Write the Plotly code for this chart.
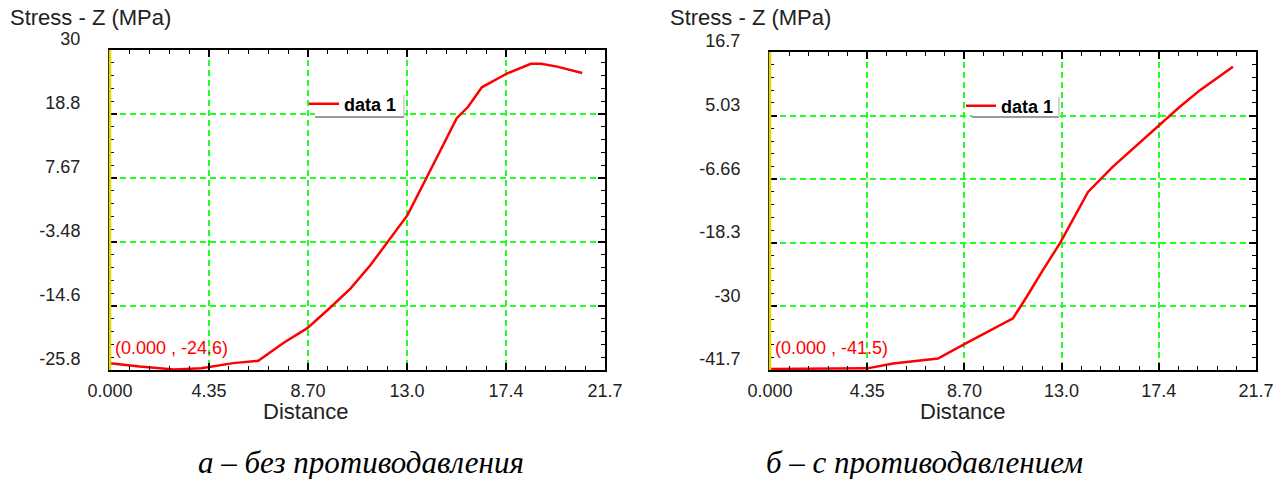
import plotly.graph_objects as go

W, H = 1280, 479

# ---------------- data ----------------
dist_a = [0, 1.3, 2.8, 4.0, 5.4, 6.5, 7.6, 8.65, 9.66, 10.54, 11.42, 12.16, 13.04,
          13.9, 14.5, 15.2, 15.7, 16.3, 17.4, 18.45, 18.9, 19.6, 20.7]
stress_a = [-24.6, -25.2, -25.7, -25.5, -24.6, -24.2, -21.1, -18.5, -14.9, -11.6, -7.5,
            -3.6, 1.2, 7.9, 12.6, 18.1, 20.1, 23.5, 25.9, 27.6, 27.6, 27.1, 26.0]

dist_b = [0, 4.35, 5.5, 7.5, 8.7, 10.85, 11.47, 12.19, 12.95, 13.53, 14.2, 15.3,
          16.38, 17.41, 18.3, 19.2, 20.67]
stress_b = [-41.5, -41.4, -40.5, -39.6, -36.9, -32.2, -28.2, -23.3, -18.4, -14.1, -9.0,
            -4.4, -0.4, 3.3, 6.65, 9.7, 14.0]

x_range = [0, 21.7]
x_ticklabels = ["0.000", "4.35", "8.70", "13.0", "17.4", "21.7"]
y_range_a = [-25.8, 30]
y_ticklabels_a = ["-25.8", "-14.6", "-3.48", "7.67", "18.8", "30"]
y_range_b = [-41.7, 16.7]
y_ticklabels_b = ["-41.7", "-30", "-18.3", "-6.66", "5.03", "16.7"]

series_name = "data 1"
y_title = "Stress - Z (MPa)"
x_title = "Distance"
cursor_a = "(0.000 , -24.6)"
cursor_b = "(0.000 , -41.5)"
caption_a = "а – без противодавления"
caption_b = "б – с противодавлением"

# ---------------- layout helpers ----------------
def px_x(p):
    return p / W

def px_y(p):
    return 1 - p / H

SANS = "Liberation Sans, Arial, sans-serif"
RED = "#ff0000"
GRID = "#22ff22"
YELLOW = "#e8d800"

# plot area rectangles in pixels (left, top, right, bottom)
box_a = (110, 50, 605, 370)
box_b = (770, 52, 1256, 370)


def even_ticks(rng, n):
    return [rng[0] + i * (rng[1] - rng[0]) / (n - 1) for i in range(n)]


def xaxis_cfg(box, anchor):
    vals = even_ticks(x_range, len(x_ticklabels))
    step = (x_range[1] - x_range[0]) / (len(x_ticklabels) - 1)
    return dict(
        domain=[px_x(box[0]), px_x(box[2])], anchor=anchor, range=x_range,
        automargin=False,
        tickmode="array", tickvals=vals, ticktext=x_ticklabels,
        ticks="inside", ticklen=7, tickwidth=2, tickcolor="black",
        showline=True, linecolor="black", linewidth=2, mirror="allticks",
        showgrid=True, gridcolor=GRID, gridwidth=1.5, griddash="6px,4px",
        zeroline=False, tickfont=dict(family=SANS, size=18, color="#222"),
        ticklabelstandoff=3,
        minor=dict(ticks="inside", ticklen=4, tickwidth=1, tickcolor="black",
                   tick0=x_range[0], dtick=step / 5, showgrid=False),
    )


def yaxis_cfg(box, anchor, rng, labels):
    vals = even_ticks(rng, len(labels))
    step = (rng[1] - rng[0]) / (len(labels) - 1)
    return dict(
        domain=[px_y(box[3]), px_y(box[1])], anchor=anchor, range=rng,
        automargin=False,
        tickmode="array", tickvals=vals, ticktext=labels,
        ticks="inside", ticklen=7, tickwidth=2, tickcolor="black",
        showline=True, linecolor="black", linewidth=2, mirror="allticks",
        showgrid=True, gridcolor=GRID, gridwidth=1.5, griddash="6px,4px",
        zeroline=False, tickfont=dict(family=SANS, size=18, color="#222"),
        ticklabelshift=-11, ticklabelstandoff=24,
        minor=dict(ticks="inside", ticklen=4, tickwidth=1, tickcolor="black",
                   tick0=rng[0], dtick=step / 5, showgrid=False),
    )


fig = go.Figure()
fig.add_trace(go.Scatter(x=dist_a, y=stress_a, mode="lines", name=series_name,
                         line=dict(color=RED, width=2.5), xaxis="x", yaxis="y",
                         legend="legend", showlegend=True))
fig.add_trace(go.Scatter(x=dist_b, y=stress_b, mode="lines", name=series_name,
                         line=dict(color=RED, width=2.5), xaxis="x2", yaxis="y2",
                         legend="legend2", showlegend=True))

legend_common = dict(
    bgcolor="rgba(0,0,0,0)", borderwidth=0, xanchor="left", yanchor="middle",
    font=dict(family=SANS, size=18, color="black", weight="bold"),
    itemwidth=30, tracegroupgap=0, visible=True,
)

shapes = []
annotations = []
for box, xa, ya, cursor, leg_px, xlab_c in [
    (box_a, "x", "y", cursor_a, (315, 93, 404, 117), 306),
    (box_b, "x2", "y2", cursor_b, (972, 95, 1059, 117), 963),
]:
    # yellow left axis line
    shapes.append(dict(type="line", xref=f"{xa} domain", yref=f"{ya} domain",
                       x0=0, x1=0, y0=0, y1=1, line=dict(color=YELLOW, width=2.5),
                       layer="above"))
    # legend box with shadow
    l, t, r, b = leg_px
    shapes.append(dict(type="rect", xref="paper", yref="paper",
                       x0=px_x(l), x1=px_x(r), y0=px_y(b), y1=px_y(t),
                       fillcolor="white", line=dict(width=0), layer="above"))
    shapes.append(dict(type="line", xref="paper", yref="paper",
                       x0=px_x(l), x1=px_x(r), y0=px_y(b), y1=px_y(b),
                       line=dict(color="#9a9a9a", width=2), layer="above"))
    shapes.append(dict(type="line", xref="paper", yref="paper",
                       x0=px_x(r), x1=px_x(r), y0=px_y(b), y1=px_y(t + 2),
                       line=dict(color="#c8c8c8", width=1.5), layer="above"))
    # y title
    annotations.append(dict(text=y_title, xref="paper", yref="paper",
                            x=px_x(box[0] - 102), y=px_y(17), xanchor="left",
                            yanchor="middle", showarrow=False,
                            font=dict(family=SANS, size=22, color="#222")))
    # x title
    annotations.append(dict(text=x_title, xref="paper", yref="paper",
                            x=px_x(xlab_c), y=px_y(411), xanchor="center",
                            yanchor="middle", showarrow=False,
                            font=dict(family=SANS, size=22, color="#222")))
    # data cursor label
    annotations.append(dict(text=cursor, xref="paper", yref="paper",
                            x=px_x(box[0] + 3), y=px_y(box[3] - 22), xanchor="left",
                            yanchor="middle", showarrow=False,
                            font=dict(family=SANS, size=18, color=RED)))

for cap, cx in [(caption_a, 361), (caption_b, 924)]:
    annotations.append(dict(text=cap, xref="paper", yref="paper",
                            x=px_x(cx), y=px_y(462), xanchor="center",
                            yanchor="middle", showarrow=False,
                            font=dict(family="Liberation Serif, Times New Roman, serif",
                                      size=31, style="italic", color="black")))

fig.update_layout(
    width=W, height=H, margin=dict(l=0, r=0, t=0, b=0, autoexpand=False),
    paper_bgcolor="white", plot_bgcolor="white", showlegend=True,
    xaxis=xaxis_cfg(box_a, "y"),
    yaxis=yaxis_cfg(box_a, "x", y_range_a, y_ticklabels_a),
    xaxis2=xaxis_cfg(box_b, "y2"),
    yaxis2=yaxis_cfg(box_b, "x2", y_range_b, y_ticklabels_b),
    legend=dict(x=px_x(304), y=px_y(104), **legend_common),
    legend2=dict(x=px_x(961), y=px_y(106), **legend_common),
    shapes=shapes, annotations=annotations,
)

fig.write_html(
    "out.html",
    config={"displayModeBar": False},
    post_script="document.body.style.margin='0';document.body.style.overflow='hidden';",
)
